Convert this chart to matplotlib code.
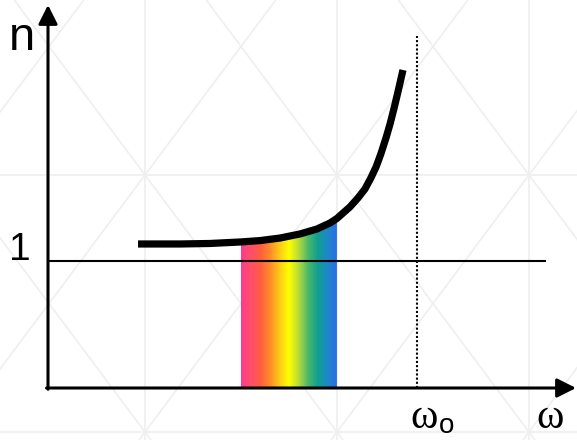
import numpy as np
import matplotlib.pyplot as plt
from matplotlib.colors import LinearSegmentedColormap
from matplotlib.patches import Polygon

# refractive index n(omega) below the resonance omega_0 = 1
omega = [0.244, 0.300, 0.358, 0.439, 0.523, 0.575, 0.629, 0.683, 0.729,
         0.764, 0.783, 0.818, 0.840, 0.859, 0.875, 0.889, 0.902, 0.916,
         0.927, 0.938, 0.949, 0.962]
n_index = [1.134, 1.134, 1.134, 1.138, 1.150, 1.161, 1.181, 1.213, 1.252,
           1.299, 1.335, 1.425, 1.496, 1.567, 1.654, 1.740, 1.843, 1.969,
           2.079, 2.205, 2.339, 2.504]

omega_0 = 1.0
n_vacuum = 1.0
visible_band = (0.523, 0.783)

spectrum_colors = ["#ff3a8c", "#ff4f6a", "#ff5c40", "#ff8a2a", "#ffc81a",
                   "#ffff00", "#b8dc3a", "#4cb86a", "#10a08e", "#1e88c8",
                   "#2a6ee8"]

W, H = 577, 440
fig = plt.figure(figsize=(W / 100, H / 100), dpi=100)

# faint diamond lattice in the background, pixel coordinates
bg = fig.add_axes([0, 0, 1, 1])
bg.set_xlim(0, W)
bg.set_ylim(H, 0)
bg.axis("off")
grid_c = "#efefef"
slope = 257 / 192
for k in range(-6, 10):
    x0 = 145 + 192 * k
    bg.axvline(x0, color=grid_c, lw=1.2, zorder=0)
    for s in (slope, -slope):
        ys = np.array([-10, H + 10])
        bg.plot(x0 + (ys - 175) / s, ys, color=grid_c, lw=1.2, zorder=0)
for y0 in (175 - 257, 175, 175 + 257):
    bg.axhline(y0, color=grid_c, lw=1.2, zorder=0)

# main diagram in (omega, n) units
ax = fig.add_axes([0, 0, 1, 1])
ax.patch.set_alpha(0)
ax.set_xlim(-48 / 369, (W - 48) / 369)
ax.set_ylim(-(H - 388) / 127, 388 / 127)
ax.axis("off")

om = np.array(omega)
nn = np.array(n_index)

# visible part of the spectrum under the curve
lo, hi = visible_band
sel = (om >= lo) & (om <= hi)
poly = [(lo, 0)] + list(zip(om[sel], nn[sel])) + [(hi, 0)]
clip = Polygon(poly, closed=True, facecolor="none", edgecolor="none")
ax.add_patch(clip)
cmap = LinearSegmentedColormap.from_list("spectrum", spectrum_colors)
grad = np.linspace(0, 1, 256)[None, :]
im = ax.imshow(grad, cmap=cmap, aspect="auto",
               extent=[lo, hi, 0, nn[sel].max()], zorder=1,
               interpolation="bilinear")
im.set_clip_path(clip)

# n = 1 reference line and resonance marker
ax.plot([0, (545 - 48) / 369], [n_vacuum, n_vacuum], color="black", lw=1.5, zorder=3)
ax.plot([omega_0, omega_0], [0, (388 - 36) / 127], color="black", lw=1.5,
        linestyle=(0, (1, 1)), zorder=3)

# dispersion curve
ax.plot(om, nn, color="black", lw=5.2, solid_capstyle="butt",
        solid_joinstyle="round", zorder=4)

# axes with arrowheads
arrow = dict(arrowstyle="-|>,head_length=1.15,head_width=0.58",
             color="black", lw=2.2, mutation_scale=10, shrinkA=0, shrinkB=0)
ax.annotate("", xy=(0, (388 - 5) / 127), xytext=(0, -0.01), arrowprops=arrow, zorder=5)
ax.annotate("", xy=((576 - 48) / 369, 0), xytext=(-0.004, 0), arrowprops=arrow, zorder=5)

# labels
bg.text(22, 50, "n", fontsize=34, family="Liberation Sans", ha="center", va="baseline")
bg.text(19.5, 260, "1", fontsize=28, family="Liberation Sans", ha="center", va="baseline")
bg.text(550, 428, "ω", fontsize=30, family="Liberation Serif", ha="center", va="baseline")
bg.text(438, 428, "ω", fontsize=30, family="Liberation Serif", ha="right", va="baseline")
bg.text(439, 433, "o", fontsize=20, family="Liberation Sans", ha="left", va="baseline")

fig.savefig("out.png", dpi=100)
